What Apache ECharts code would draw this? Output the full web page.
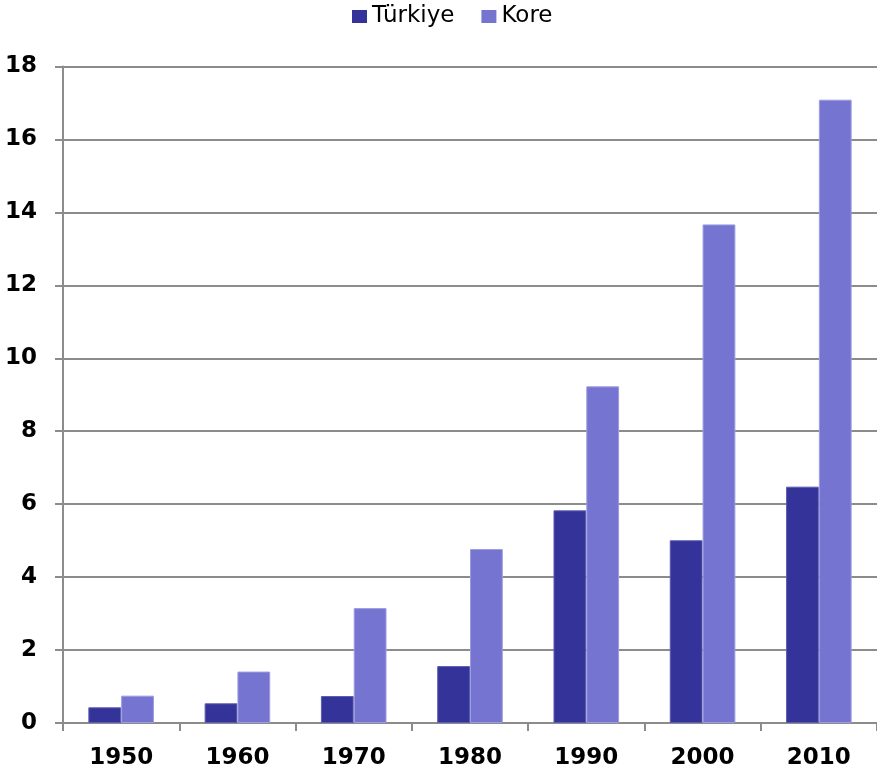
<!DOCTYPE html>
<html><head><meta charset="utf-8">
<script src="https://cdn.jsdelivr.net/npm/echarts@6/dist/echarts.min.js"></script>
<style>html,body{margin:0;padding:0;background:#fff}#c{width:877px;height:773px}</style>
</head><body><div id="c"></div>
<script>
var categories = ['1950','1960','1970','1980','1990','2000','2010'];
var turkiye = [0.43, 0.54, 0.74, 1.56, 5.83, 5.01, 6.48];
var kore = [0.75, 1.41, 3.15, 4.77, 9.23, 13.67, 17.09];
var seriesNames = ['Türkiye', 'Kore'];
var chart = echarts.init(document.getElementById('c'));
var font = 'Verdana, "DejaVu Sans", sans-serif';
chart.setOption({
  animation: false,
  legend: {
    top: 0, left: 347, itemWidth: 15, itemHeight: 13, itemGap: 27,
    icon: 'rect',
    itemStyle: {borderWidth: 0},
    textStyle: {fontFamily: font, fontSize: 23, color: '#000'},
    data: seriesNames
  },
  grid: {left: 63, top: 66.5, bottom: 50, width: 819, containLabel: false},
  xAxis: {
    type: 'category', data: categories,
    axisLine: {lineStyle: {color: '#8c8c8c', width: 2}},
    axisTick: {show: true, length: 8, lineStyle: {color: '#8c8c8c', width: 2}},
    axisLabel: {fontFamily: font, fontSize: 23, fontWeight: 'bold', color: '#000', margin: 24}
  },
  yAxis: {
    type: 'value', min: 0, max: 18, interval: 2,
    axisLine: {show: true, lineStyle: {color: '#8c8c8c', width: 2}},
    axisTick: {show: true, length: 8, lineStyle: {color: '#8c8c8c', width: 2}},
    splitLine: {lineStyle: {color: '#8c8c8c', width: 2}},
    axisLabel: {fontFamily: font, fontSize: 23, fontWeight: 'bold', color: '#000', margin: 26}
  },
  series: [
    {name: seriesNames[0], type: 'bar', data: turkiye, barGap: '0%', barCategoryGap: '43.6%',
     itemStyle: {color: '#333399', borderColor: '#5c5cb0', borderWidth: 1}},
    {name: seriesNames[1], type: 'bar', data: kore, barGap: '0%', barCategoryGap: '43.6%',
     itemStyle: {color: '#7575d1', borderColor: '#9c9ce0', borderWidth: 1}}
  ]
});
</script></body></html>
